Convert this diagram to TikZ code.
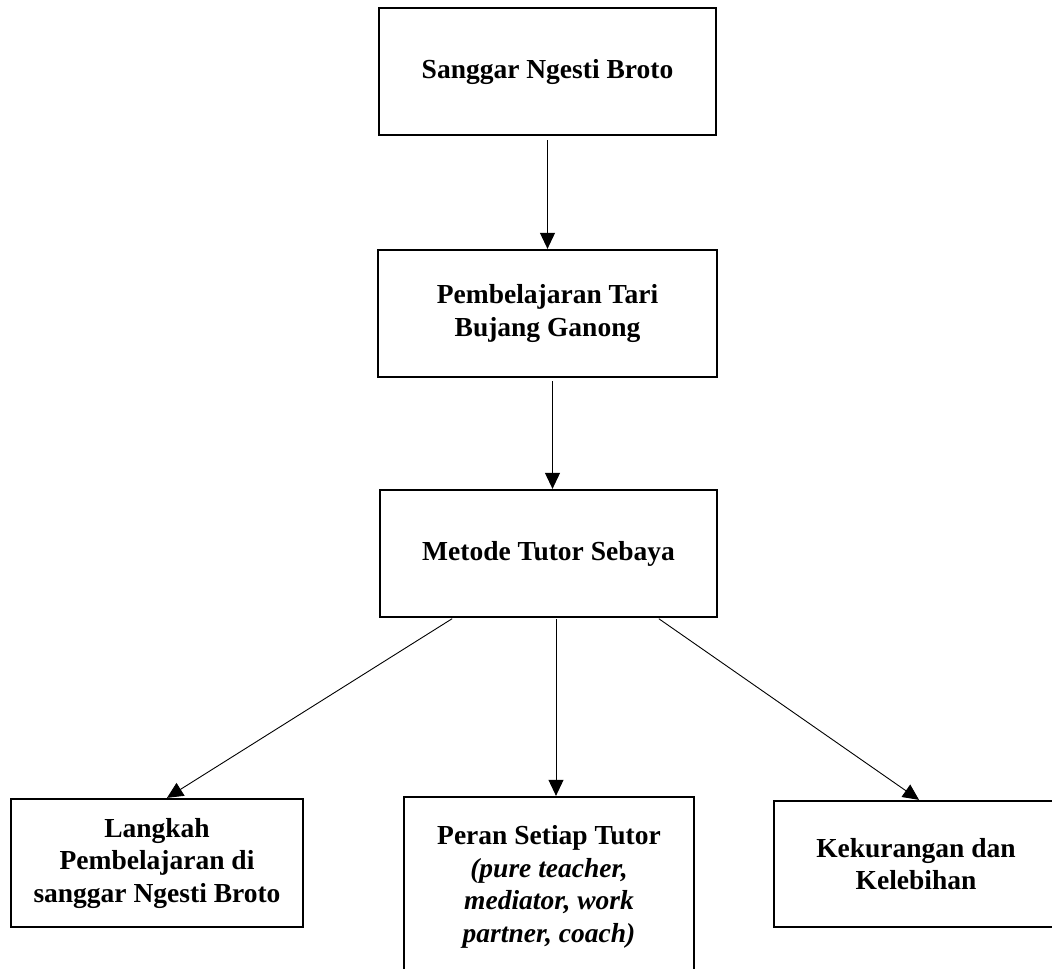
\documentclass[tikz,border=0pt]{standalone}
\usepackage{fontspec}
\setmainfont{Liberation Serif}
\usetikzlibrary{arrows.meta}
\begin{document}
\begin{tikzpicture}[x=1pt,y=-1pt,
  box/.style={draw=black, line width=2.3pt, fill=white, inner sep=0pt, align=center,
    font=\fontsize{27.5}{32.5}\selectfont\bfseries},
  conn/.style={line width=0.9pt, -{Triangle[length=16pt,width=15pt]}}]
\useasboundingbox (0,0) rectangle (1052,969);
\clip (0,0) rectangle (1052,969);
\fill[white] (0,0) rectangle (1052,969);
\node[box, minimum width=337pt, minimum height=127pt] (A) at (547.5,71.5) {Sanggar Ngesti Broto};
\node[box, minimum width=339pt, minimum height=127pt] (B) at (547.5,313.5) {Pembelajaran Tari\\Bujang Ganong};
\node[box, minimum width=337pt, minimum height=127pt] (C) at (548.5,553.5) {Metode Tutor Sebaya};
\node[box, minimum width=292pt, minimum height=128pt] (L) at (157,863) {Langkah\\Pembelajaran di\\sanggar Ngesti Broto};
\node[box, minimum width=290pt, minimum height=180pt] (M) at (549,887) {Peran Setiap Tutor\\\textit{(pure teacher,}\\\textit{mediator, work}\\\textit{partner, coach)}};
\node[box, minimum width=284pt, minimum height=126pt] (R) at (916,864) {Kekurangan dan\\Kelebihan};
\draw[conn, shorten <=4pt] (A.south) -- (B.north);
\draw[conn, shorten <=3pt] ([xshift=4pt]C.north |- B.south) -- ([xshift=4pt]C.north);
\draw[conn, shorten <=1pt] ([xshift=-95.5pt]C.south) -- ([xshift=10pt]L.north);
\draw[conn, shorten <=1pt] ([xshift=7.5pt]C.south) -- ([xshift=7pt]M.north);
\draw[conn, shorten <=1pt] ([xshift=109.5pt]C.south) -- ([xshift=3pt]R.north);
\end{tikzpicture}
\end{document}
